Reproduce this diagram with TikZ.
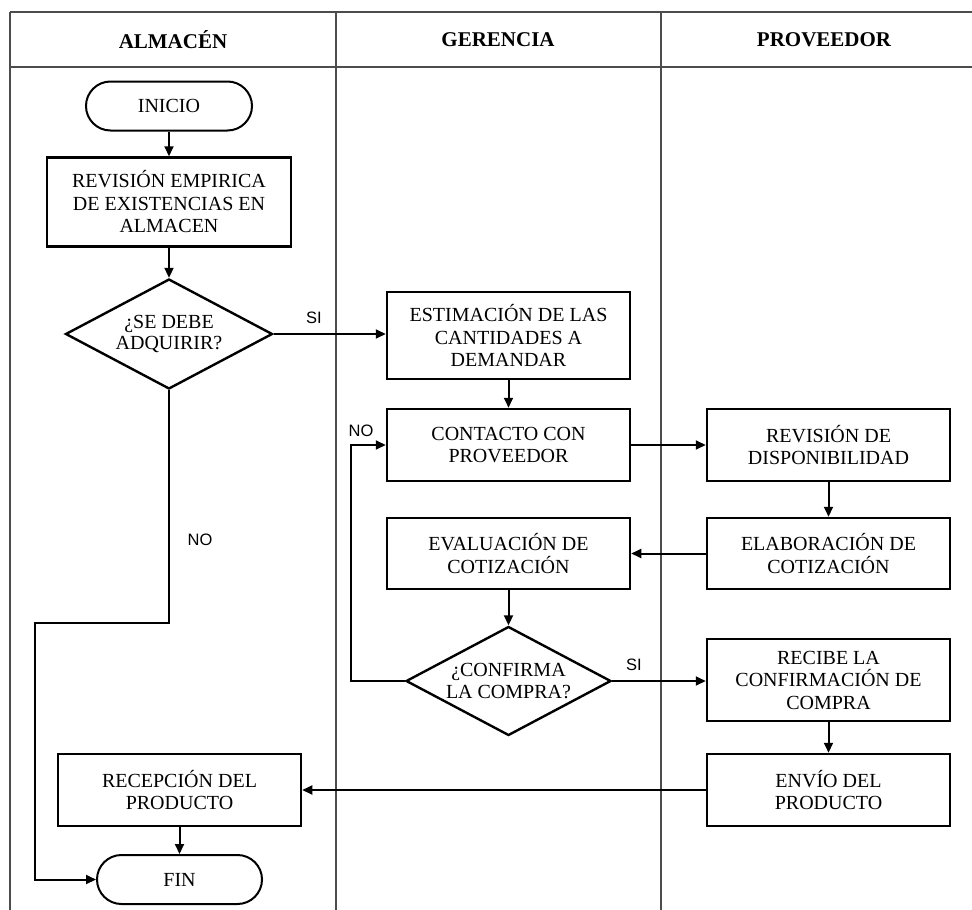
\documentclass[tikz,border=0pt]{standalone}
\usepackage{fontspec}
\setmainfont{Liberation Serif}
\newfontfamily\labfont{Liberation Sans}
\usetikzlibrary{arrows.meta,shapes.geometric}
\tikzset{
  procbox/.style={draw=black,line width=2.5pt,rectangle,minimum width=243pt,inner sep=0pt,align=center,font=\fontsize{20}{22.5}\selectfont},
  termbox/.style={draw=black,line width=2pt,rectangle,rounded corners=24.5pt,minimum width=166pt,minimum height=49pt,inner sep=0pt,align=center,font=\fontsize{20}{22.5}\selectfont},
  decbox/.style={draw=black,line width=2.4pt,diamond,aspect=1.9,inner sep=0pt,minimum width=207pt,minimum height=110pt,align=center,font=\fontsize{20}{21.7}\selectfont},
  headtxt/.style={font=\fontsize{21}{24}\selectfont\bfseries},
  lab/.style={font=\labfont\fontsize{16.5}{18}\selectfont,inner sep=0pt},
  conn/.style={draw=black,line width=2pt,-{Triangle[length=10pt,width=9pt]}},
  grid/.style={draw=black!70,line width=1.1pt}
}
\begin{document}
\begin{tikzpicture}[x=1pt,y=-1pt]
\useasboundingbox (0,0) rectangle (972,910);
\fill[white] (0,0) rectangle (972,910);
% table
\draw[grid] (10,12) -- (972,12);
\draw[grid,line width=1.6pt] (10,67) -- (972,67);
\draw[grid] (10,12) -- (10,910);
\draw[grid] (336,12) -- (336,910);
\draw[grid] (661,12) -- (661,910);
\node[headtxt] (h1) at (173,40) {ALMACÉN};
\node[headtxt] (h2) at (498,40) {GERENCIA};
\node[headtxt] (h3) at (824,40) {PROVEEDOR};
% nodes
\node[termbox] (ini) at (169,106) {INICIO};
\node[procbox,minimum width=244pt,minimum height=89pt] (rev) at (169,202) {REVISIÓN EMPIRICA\\DE EXISTENCIAS EN\\ALMACEN};
\node[decbox] (d1) at (169,334) {¿SE DEBE\\ADQUIRIR?};
\node[procbox,minimum height=87pt] (est) at (508.5,335.5) {ESTIMACIÓN DE LAS\\CANTIDADES A\\DEMANDAR};
\node[procbox,minimum height=72pt] (cont) at (508.5,445) {CONTACTO CON\\PROVEEDOR};
\node[procbox,minimum height=71pt] (eval) at (508.5,553.5) {EVALUACIÓN DE\\COTIZACIÓN};
\node[decbox,minimum width=205pt,minimum height=109pt] (d2) at (508.5,681) {¿CONFIRMA\\LA COMPRA?};
\node[procbox,minimum height=72pt] (disp) at (828.5,445) {REVISIÓN DE\\DISPONIBILIDAD};
\node[procbox,minimum height=71pt] (elab) at (828.5,553.5) {ELABORACIÓN DE\\COTIZACIÓN};
\node[procbox,minimum height=82pt] (recb) at (828.5,680) {RECIBE LA\\CONFIRMACIÓN DE\\COMPRA};
\node[procbox,minimum height=72pt] (env) at (828.5,790) {ENVÍO DEL\\PRODUCTO};
\node[procbox,minimum height=72pt] (recp) at (179.5,790) {RECEPCIÓN DEL\\PRODUCTO};
\node[termbox,minimum width=165pt] (fin) at (179.5,879.5) {FIN};
% helper coordinates
\coordinate (n1) at (35,623);
\coordinate (lp) at (351,445);
% connectors
\draw[conn] (ini) -- (rev);
\draw[conn] (rev) -- (d1);
\draw[conn] (d1.east) -- (d1.east -| est.west);
\draw[conn] (est) -- (cont);
\draw[conn] (cont.east) -- (disp.west);
\draw[conn] (disp) -- (elab);
\draw[conn] (elab.west) -- (eval.east);
\draw[conn] (eval) -- (d2);
\draw[conn] (d2.east) -- (d2.east -| recb.west);
\draw[conn] (recb) -- (env);
\draw[conn] (env.west) -- (recp.east);
\draw[conn] (recp) -- (fin);
\draw[conn] (d1.south) |- (n1) |- (fin.west);
\draw[conn] (d2.west) -| (lp) -- (cont.west);
% labels
\node[lab] (l1) at (314,318) {SI};
\node[lab] (l2) at (200,540) {NO};
\node[lab] (l3) at (361,431) {NO};
\node[lab] (l4) at (634,665) {SI};
\end{tikzpicture}
\end{document}
